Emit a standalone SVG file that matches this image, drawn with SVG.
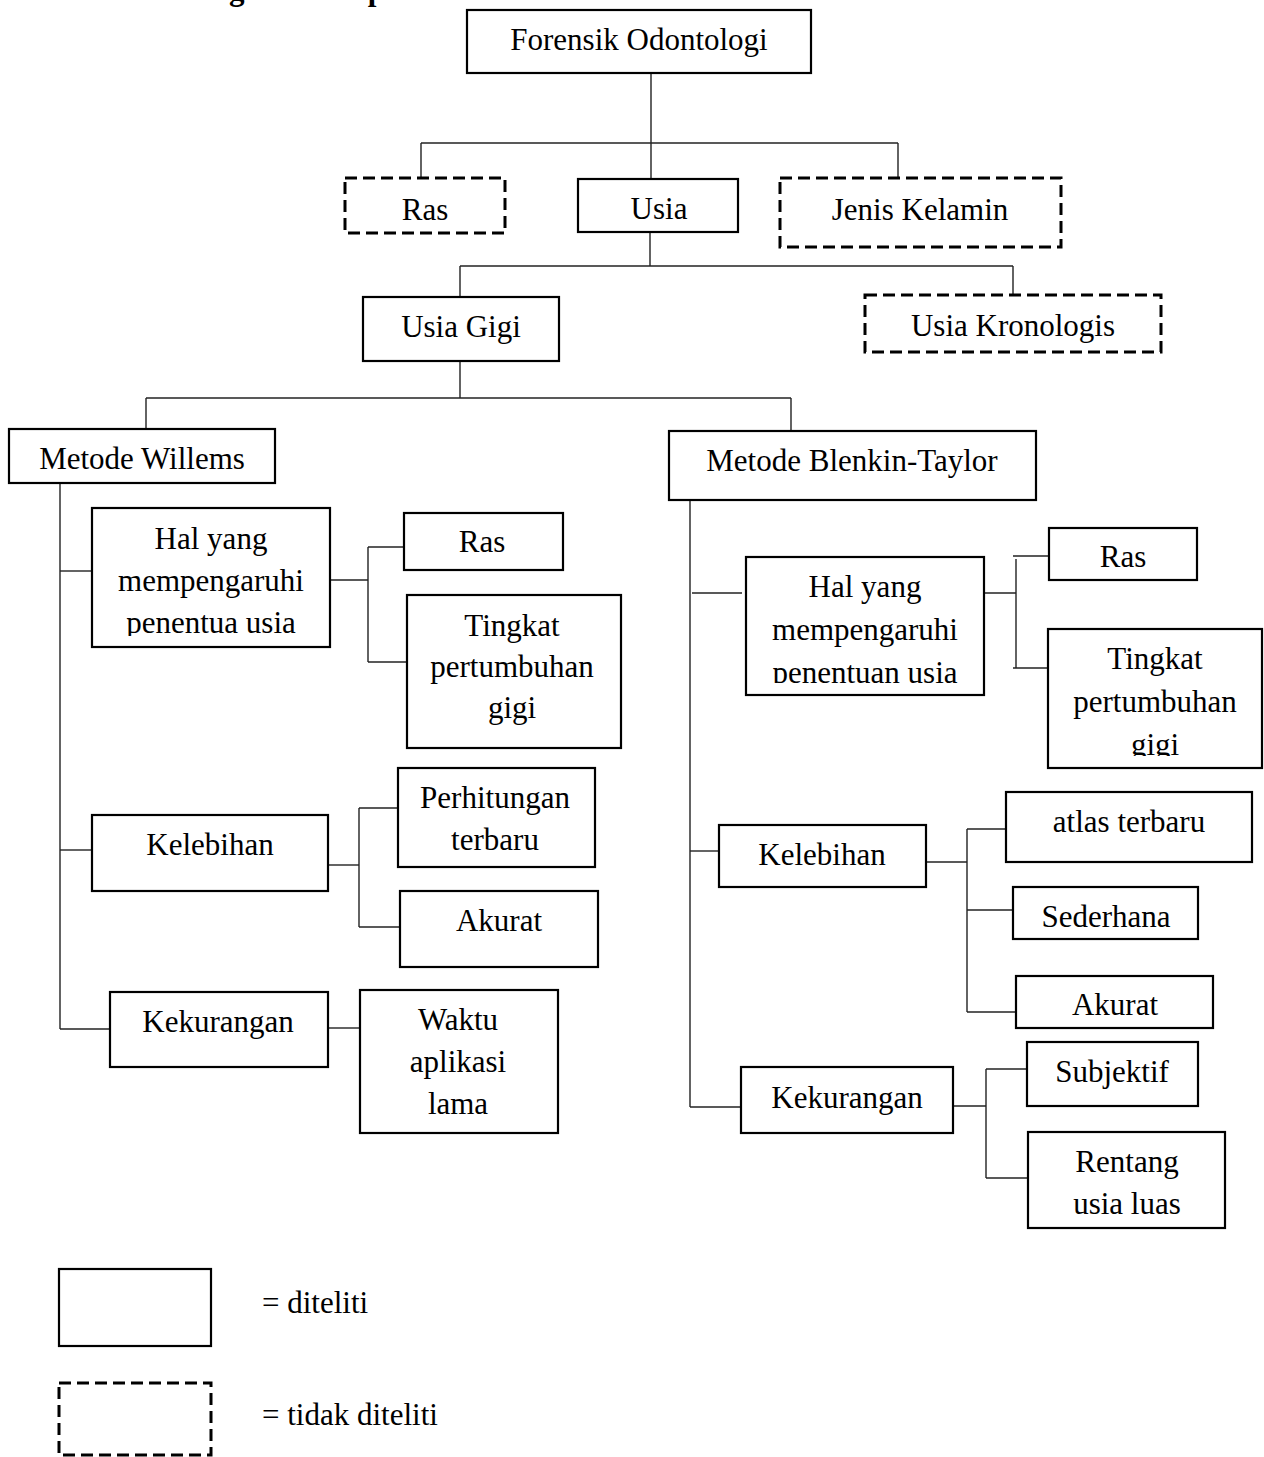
<svg xmlns="http://www.w3.org/2000/svg" width="1264" height="1457" viewBox="0 0 1264 1457">
<style>
text{font-family:"Liberation Serif","Times New Roman",serif;font-size:31px;fill:#000;text-anchor:middle}
.title{font-weight:bold;text-anchor:start}
.leg{text-anchor:start}
.box{fill:#fff;stroke:#000;stroke-width:2.2}
.dash{fill:#fff;stroke:#000;stroke-width:3;stroke-dasharray:12 6}
.conn line{stroke:#222;stroke-width:1.4}
</style>
<defs>
<clipPath id="clipHW"><rect x="92" y="508" width="238" height="128"/></clipPath>
<clipPath id="clipHB"><rect x="746" y="557" width="238" height="126"/></clipPath>
<clipPath id="clipTB"><rect x="1048" y="629" width="214" height="127"/></clipPath>
</defs>
<rect width="1264" height="1457" fill="#fff"/>
<text class="title" x="105" y="0">G. Kerangka Konsep</text>

<g class="conn" id="connectors">
<line x1="651" y1="73" x2="651" y2="143"/>
<line x1="421" y1="143" x2="898" y2="143"/>
<line x1="421" y1="143" x2="421" y2="178"/>
<line x1="651" y1="143" x2="651" y2="179"/>
<line x1="898" y1="143" x2="898" y2="178"/>
<line x1="650" y1="232" x2="650" y2="266"/>
<line x1="460" y1="266" x2="1013" y2="266"/>
<line x1="460" y1="266" x2="460" y2="297"/>
<line x1="1013" y1="266" x2="1013" y2="295"/>
<line x1="460" y1="361" x2="460" y2="398"/>
<line x1="146" y1="398" x2="791" y2="398"/>
<line x1="146" y1="398" x2="146" y2="429"/>
<line x1="791" y1="398" x2="791" y2="431"/>
<!-- Willems -->
<line x1="60" y1="483" x2="60" y2="1029"/>
<line x1="60" y1="571" x2="92" y2="571"/>
<line x1="330" y1="580" x2="368" y2="580"/>
<line x1="368" y1="547" x2="368" y2="662"/>
<line x1="368" y1="547" x2="404" y2="547"/>
<line x1="368" y1="662" x2="407" y2="662"/>
<line x1="60" y1="850" x2="92" y2="850"/>
<line x1="328" y1="865" x2="359" y2="865"/>
<line x1="359" y1="808" x2="359" y2="927"/>
<line x1="359" y1="808" x2="398" y2="808"/>
<line x1="359" y1="927" x2="400" y2="927"/>
<line x1="60" y1="1029" x2="110" y2="1029"/>
<line x1="328" y1="1028" x2="360" y2="1028"/>
<!-- Blenkin-Taylor -->
<line x1="690" y1="500" x2="690" y2="1107"/>
<line x1="692" y1="593" x2="742" y2="593"/>
<line x1="981" y1="593" x2="1016" y2="593"/>
<line x1="1016" y1="559" x2="1016" y2="668"/>
<line x1="1013" y1="556" x2="1049" y2="556"/>
<line x1="1013" y1="668" x2="1053" y2="668"/>
<line x1="690" y1="851" x2="719" y2="851"/>
<line x1="926" y1="862" x2="967" y2="862"/>
<line x1="967" y1="829" x2="967" y2="1012"/>
<line x1="967" y1="829" x2="1006" y2="829"/>
<line x1="967" y1="910" x2="1013" y2="910"/>
<line x1="967" y1="1012" x2="1016" y2="1012"/>
<line x1="690" y1="1107" x2="741" y2="1107"/>
<line x1="953" y1="1106" x2="986" y2="1106"/>
<line x1="986" y1="1069" x2="986" y2="1178"/>
<line x1="986" y1="1069" x2="1027" y2="1069"/>
<line x1="986" y1="1178" x2="1028" y2="1178"/>
</g>

<g id="n-forensik"><rect class="box" x="467" y="10" width="344" height="63"/><text x="639" y="50">Forensik Odontologi</text></g>
<g id="n-ras"><rect class="dash" x="345" y="178" width="160" height="55"/><text x="425" y="220">Ras</text></g>
<g id="n-usia"><rect class="box" x="578" y="179" width="160" height="53"/><text x="659" y="219">Usia</text></g>
<g id="n-jenis"><rect class="dash" x="780" y="178" width="281" height="69"/><text x="920" y="220">Jenis Kelamin</text></g>
<g id="n-usiagigi"><rect class="box" x="363" y="297" width="196" height="64"/><text x="461" y="337">Usia Gigi</text></g>
<g id="n-kronologis"><rect class="dash" x="865" y="295" width="296" height="57"/><text x="1013" y="336">Usia Kronologis</text></g>

<g id="n-willems"><rect class="box" x="9" y="429" width="266" height="54"/><text x="142" y="469">Metode Willems</text></g>
<g id="n-w-hal"><rect class="box" x="92" y="508" width="238" height="139"/>
<g clip-path="url(#clipHW)"><text x="211" y="549">Hal yang</text><text x="211" y="591">mempengaruhi</text><text x="211" y="633">penentua usia</text></g></g>
<g id="n-w-ras"><rect class="box" x="404" y="513" width="159" height="57"/><text x="482" y="552">Ras</text></g>
<g id="n-w-tingkat"><rect class="box" x="407" y="595" width="214" height="153"/><text x="512" y="636">Tingkat</text><text x="512" y="677">pertumbuhan</text><text x="512" y="718">gigi</text></g>
<g id="n-w-kelebihan"><rect class="box" x="92" y="815" width="236" height="76"/><text x="210" y="855">Kelebihan</text></g>
<g id="n-w-perhitungan"><rect class="box" x="398" y="768" width="197" height="99"/><text x="495" y="808">Perhitungan</text><text x="495" y="850">terbaru</text></g>
<g id="n-w-akurat"><rect class="box" x="400" y="891" width="198" height="76"/><text x="499" y="931">Akurat</text></g>
<g id="n-w-kekurangan"><rect class="box" x="110" y="992" width="218" height="75"/><text x="218" y="1032">Kekurangan</text></g>
<g id="n-w-waktu"><rect class="box" x="360" y="990" width="198" height="143"/><text x="458" y="1030">Waktu</text><text x="458" y="1072">aplikasi</text><text x="458" y="1114">lama</text></g>

<g id="n-blenkin"><rect class="box" x="669" y="431" width="367" height="69"/><text x="852" y="471">Metode Blenkin-Taylor</text></g>
<g id="n-b-hal"><rect class="box" x="746" y="557" width="238" height="138"/>
<g clip-path="url(#clipHB)"><text x="865" y="597">Hal yang</text><text x="865" y="640">mempengaruhi</text><text x="865" y="683">penentuan usia</text></g></g>
<g id="n-b-ras"><rect class="box" x="1049" y="528" width="148" height="52"/><text x="1123" y="567">Ras</text></g>
<g id="n-b-tingkat"><rect class="box" x="1048" y="629" width="214" height="139"/>
<g clip-path="url(#clipTB)"><text x="1155" y="669">Tingkat</text><text x="1155" y="712">pertumbuhan</text><text x="1155" y="755">gigi</text></g></g>
<g id="n-b-kelebihan"><rect class="box" x="719" y="825" width="207" height="62"/><text x="822" y="865">Kelebihan</text></g>
<g id="n-b-atlas"><rect class="box" x="1006" y="792" width="246" height="70"/><text x="1129" y="832">atlas terbaru</text></g>
<g id="n-b-sederhana"><rect class="box" x="1013" y="887" width="185" height="52"/><text x="1106" y="927">Sederhana</text></g>
<g id="n-b-akurat"><rect class="box" x="1016" y="976" width="197" height="52"/><text x="1115" y="1015">Akurat</text></g>
<g id="n-b-kekurangan"><rect class="box" x="741" y="1067" width="212" height="66"/><text x="847" y="1108">Kekurangan</text></g>
<g id="n-b-subjektif"><rect class="box" x="1027" y="1042" width="171" height="64"/><text x="1112" y="1082">Subjektif</text></g>
<g id="n-b-rentang"><rect class="box" x="1028" y="1132" width="197" height="96"/><text x="1127" y="1172">Rentang</text><text x="1127" y="1214">usia luas</text></g>

<g id="legend">
<rect class="box" x="59" y="1269" width="152" height="77"/>
<text class="leg" x="262" y="1313">= diteliti</text>
<rect class="dash" x="59" y="1383" width="152" height="72"/>
<text class="leg" x="262" y="1425">= tidak diteliti</text>
</g>
</svg>
